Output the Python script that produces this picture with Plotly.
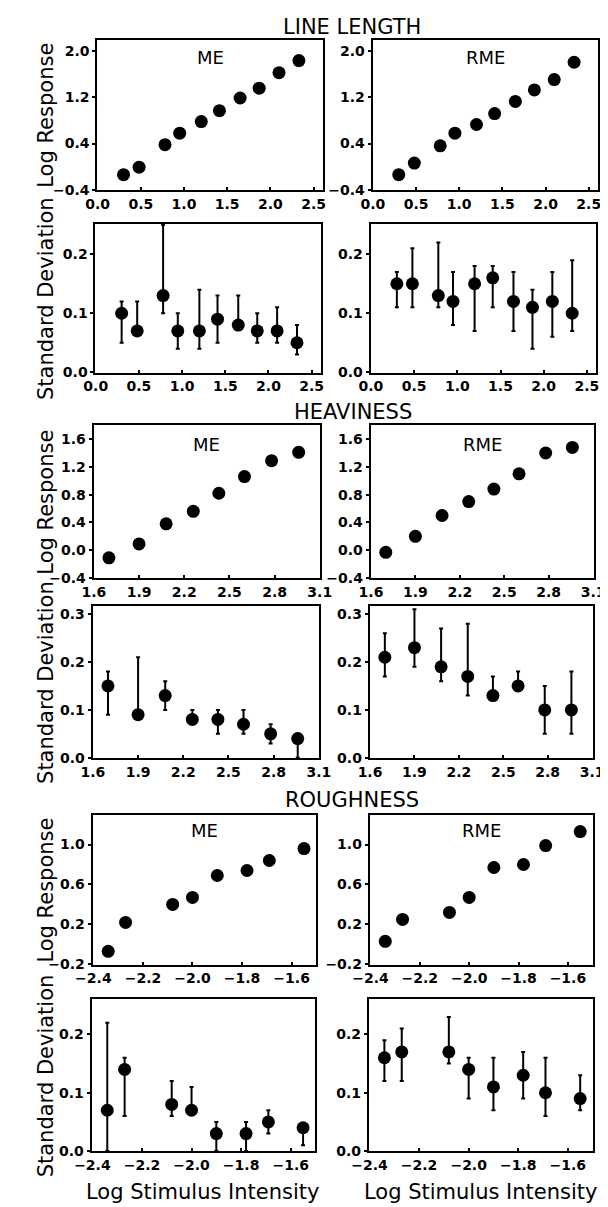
import plotly.graph_objects as go

# ---------------- DATA ----------------
# Line length
LL_X = [0.30, 0.48, 0.78, 0.95, 1.20, 1.41, 1.65, 1.87, 2.10, 2.33]
LL_ME_RESP = [-0.14, -0.01, 0.38, 0.58, 0.78, 0.97, 1.19, 1.36, 1.63, 1.84]
LL_RME_RESP = [-0.14, 0.06, 0.36, 0.58, 0.73, 0.92, 1.13, 1.33, 1.51, 1.81]
LL_ME_SD = [0.10, 0.07, 0.13, 0.07, 0.07, 0.09, 0.08, 0.07, 0.07, 0.05]
LL_ME_SD_HI = [0.12, 0.12, 0.25, 0.10, 0.14, 0.13, 0.13, 0.10, 0.11, 0.08]
LL_ME_SD_LO = [0.05, 0.07, 0.10, 0.04, 0.04, 0.05, 0.08, 0.05, 0.05, 0.03]
LL_RME_SD = [0.15, 0.15, 0.13, 0.12, 0.15, 0.16, 0.12, 0.11, 0.12, 0.10]
LL_RME_SD_HI = [0.17, 0.21, 0.22, 0.17, 0.18, 0.18, 0.17, 0.14, 0.17, 0.19]
LL_RME_SD_LO = [0.11, 0.11, 0.11, 0.08, 0.07, 0.11, 0.07, 0.04, 0.06, 0.07]

# Heaviness
HV_X = [1.70, 1.90, 2.08, 2.26, 2.43, 2.60, 2.78, 2.96]
HV_ME_RESP = [-0.11, 0.09, 0.38, 0.56, 0.82, 1.06, 1.29, 1.41]
HV_RME_RESP = [-0.03, 0.20, 0.50, 0.70, 0.88, 1.10, 1.40, 1.48]
HV_ME_SD = [0.15, 0.09, 0.13, 0.08, 0.08, 0.07, 0.05, 0.04]
HV_ME_SD_HI = [0.18, 0.21, 0.16, 0.10, 0.10, 0.10, 0.07, 0.04]
HV_ME_SD_LO = [0.09, 0.09, 0.10, 0.08, 0.05, 0.05, 0.03, 0.00]
HV_RME_SD = [0.21, 0.23, 0.19, 0.17, 0.13, 0.15, 0.10, 0.10]
HV_RME_SD_HI = [0.26, 0.31, 0.27, 0.28, 0.17, 0.18, 0.15, 0.18]
HV_RME_SD_LO = [0.17, 0.19, 0.16, 0.13, 0.13, 0.15, 0.05, 0.05]

# Roughness
RG_X = [-2.34, -2.27, -2.08, -2.00, -1.90, -1.78, -1.69, -1.55]
RG_ME_RESP = [-0.07, 0.22, 0.40, 0.47, 0.69, 0.74, 0.84, 0.96]
RG_RME_RESP = [0.03, 0.25, 0.32, 0.47, 0.77, 0.80, 0.99, 1.13]
RG_ME_SD = [0.07, 0.14, 0.08, 0.07, 0.03, 0.03, 0.05, 0.04]
RG_ME_SD_HI = [0.22, 0.16, 0.12, 0.11, 0.05, 0.05, 0.07, 0.04]
RG_ME_SD_LO = [0.00, 0.06, 0.06, 0.07, 0.00, 0.00, 0.03, 0.01]
RG_RME_SD = [0.16, 0.17, 0.17, 0.14, 0.11, 0.13, 0.10, 0.09]
RG_RME_SD_HI = [0.19, 0.21, 0.23, 0.16, 0.16, 0.17, 0.16, 0.13]
RG_RME_SD_LO = [0.12, 0.12, 0.15, 0.09, 0.07, 0.09, 0.06, 0.07]

# Tick values
LL_XTICKS = [0.0, 0.5, 1.0, 1.5, 2.0, 2.5]
HV_XTICKS = [1.6, 1.9, 2.2, 2.5, 2.8, 3.1]
RG_XTICKS = [-2.4, -2.2, -2.0, -1.8, -1.6]
LL_RESP_TICKS = [-0.4, 0.4, 1.2, 2.0]
HV_RESP_TICKS = [-0.4, 0.0, 0.4, 0.8, 1.2, 1.6]
RG_RESP_TICKS = [-0.2, 0.2, 0.6, 1.0]
LL_SD_TICKS = [0.0, 0.1, 0.2]
HV_SD_TICKS = [0.0, 0.1, 0.2, 0.3]
RG_SD_TICKS = [0.0, 0.1, 0.2]

SECTIONS = ["LINE LENGTH", "HEAVINESS", "ROUGHNESS"]
METHODS = ["ME", "RME"]
RESP_TITLE = "Log Response"
SD_TITLE = "Standard Deviation"
X_TITLE = "Log Stimulus Intensity"

# ---------------- LAYOUT GEOMETRY (pixels) ----------------
W, H = 608, 1207
# per row: (top, bottom), left col (x0,x1), right col (x0,x1)
ROWS = [
    ((32, 183), (76, 313), (365, 602)),
    ((217, 367), (74, 311), (363, 600)),
    ((420, 574), (72, 310), (363, 597)),
    ((602, 755), (71, 309), (362, 596)),
    ((812, 963), (71, 306), (362, 596)),
    ((998, 1151), (70, 305), (361, 596)),
]

panels = [
    # row, x, (ME data), (RME data), xticks, xrange, yticks, yrange
    (0, LL_X, (LL_ME_RESP, None, None), (LL_RME_RESP, None, None), LL_XTICKS, [-0.003, 2.61], LL_RESP_TICKS, [-0.403, 2.2]),
    (1, LL_X, (LL_ME_SD, LL_ME_SD_HI, LL_ME_SD_LO), (LL_RME_SD, LL_RME_SD_HI, LL_RME_SD_LO), LL_XTICKS, [-0.003, 2.61], LL_SD_TICKS, [-0.0005, 0.252]),
    (2, HV_X, (HV_ME_RESP, None, None), (HV_RME_RESP, None, None), HV_XTICKS, [1.598, 3.103], HV_RESP_TICKS, [-0.403, 1.8]),
    (3, HV_X, (HV_ME_SD, HV_ME_SD_HI, HV_ME_SD_LO), (HV_RME_SD, HV_RME_SD_HI, HV_RME_SD_LO), HV_XTICKS, [1.598, 3.103], HV_SD_TICKS, [-0.0005, 0.317]),
    (4, RG_X, (RG_ME_RESP, None, None), (RG_RME_RESP, None, None), RG_XTICKS, [-2.403, -1.5], RG_RESP_TICKS, [-0.203, 1.3]),
    (5, RG_X, (RG_ME_SD, RG_ME_SD_HI, RG_ME_SD_LO), (RG_RME_SD, RG_RME_SD_HI, RG_RME_SD_LO), RG_XTICKS, [-2.403, -1.5], RG_SD_TICKS, [-0.0005, 0.26]),
]

FONT = "DejaVu Sans"
tickfont = dict(family=FONT, size=14, color="black", weight="bold")

fig = go.Figure()
layout = dict(
    width=W, height=H, margin=dict(l=0, r=0, t=0, b=0),
    paper_bgcolor="white", plot_bgcolor="white", showlegend=False,
)
annotations = []

for row, xs, me, rme, xt, xr, yt, yr in panels:
    (top, bot), lcol, rcol = ROWS[row]
    for c, (ser, col) in enumerate([(me, lcol), (rme, rcol)]):
        n = row * 2 + c + 1
        xa = "x" if n == 1 else f"x{n}"
        ya = "y" if n == 1 else f"y{n}"
        vals, hi, lo = ser
        err = None
        if hi is not None:
            err = dict(type="data", symmetric=False,
                       array=[h - v for h, v in zip(hi, vals)],
                       arrayminus=[v - l for v, l in zip(vals, lo)],
                       color="black", thickness=2, width=2)
        fig.add_trace(go.Scatter(
            x=xs, y=vals, mode="markers", xaxis=xa, yaxis=ya,
            marker=dict(color="black", size=13),
            error_y=err, cliponaxis=False,
        ))
        layout["xaxis" if n == 1 else f"xaxis{n}"] = dict(
            domain=[col[0] / W, col[1] / W], anchor=ya, range=xr,
            tickvals=xt, tickformat=".1f", showgrid=False, zeroline=False,
            showline=True, linecolor="black", linewidth=2, mirror=True,
            ticks="inside", ticklen=3, tickwidth=2, tickcolor="black",
            tickfont=tickfont,
        )
        layout["yaxis" if n == 1 else f"yaxis{n}"] = dict(
            domain=[1 - bot / H, 1 - top / H], anchor=xa, range=yr,
            tickvals=yt, tickformat=".1f", showgrid=False, zeroline=False,
            showline=True, linecolor="black", linewidth=2, mirror=True,
            ticks="outside", ticklen=3, tickwidth=2, tickcolor="black",
            tickfont=tickfont,
        )
        # ME / RME labels in response panels
        if row % 2 == 0:
            off = {0: 18, 2: 19, 4: 16}[row]
            annotations.append(dict(
                text=METHODS[c], xref=f"{xa} domain", yref=f"{ya} domain",
                x=0.5, y=1 - off / (bot - top), xanchor="center", yanchor="middle",
                showarrow=False, font=dict(family=FONT, size=18, color="black"),
            ))
    # left axis titles
    annotations.append(dict(
        text=RESP_TITLE if row % 2 == 0 else SD_TITLE, textangle=-90,
        xref="paper", yref="paper", x=22 / W, y=1 - (top + bot) / 2 / H,
        xanchor="center", yanchor="middle", showarrow=False,
        font=dict(family=FONT, size=21, color="black"),
    ))

# section titles
for txt, (cx, cy) in zip(SECTIONS, [(343, 19.5), (344, 407), (343.5, 797)]):
    annotations.append(dict(
        text=txt, xref="paper", yref="paper", x=cx / W, y=1 - cy / H,
        xanchor="center", yanchor="middle", showarrow=False,
        font=dict(family=FONT, size=21, color="black"),
    ))

# bottom x titles
for cx in [187, 479]:
    annotations.append(dict(
        text=X_TITLE, xref="paper", yref="paper", x=cx / W, y=1 - 1192 / H,
        xanchor="center", yanchor="middle", showarrow=False,
        font=dict(family=FONT, size=21, color="black"),
    ))

layout["annotations"] = annotations
fig.update_layout(**layout)
fig.write_html("out.html")
